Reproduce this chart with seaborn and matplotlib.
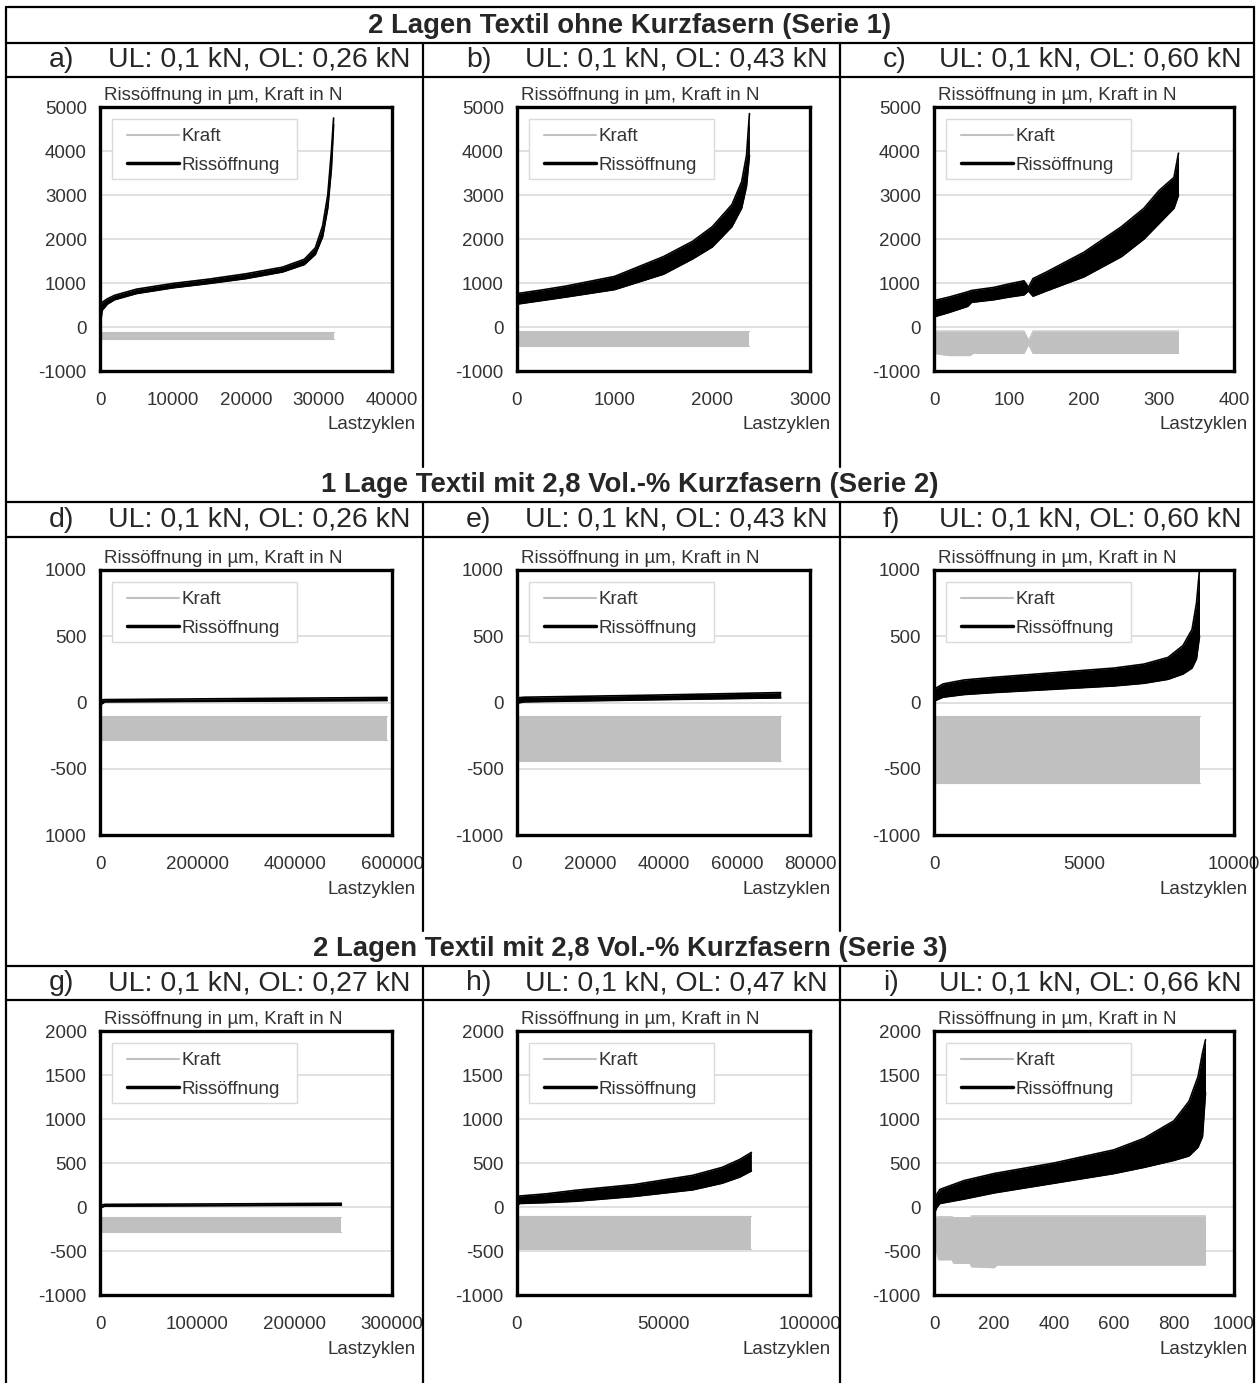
import numpy as np
import pandas as pd
import seaborn as sns
import matplotlib.pyplot as plt
from matplotlib.lines import Line2D
from matplotlib.patches import Rectangle

# Figure size in pixels (dpi 100)
W, H = 1259, 1383

# Section titles and panel subtitles
SECTION_TITLES = [
    "2 Lagen Textil ohne Kurzfasern (Serie 1)",
    "1 Lage Textil mit 2,8 Vol.-% Kurzfasern (Serie 2)",
    "2 Lagen Textil mit 2,8 Vol.-% Kurzfasern (Serie 3)",
]
PANEL_LETTERS = ["a)", "b)", "c)", "d)", "e)", "f)", "g)", "h)", "i)"]
PANEL_LOADS = [
    "UL: 0,1 kN, OL: 0,26 kN", "UL: 0,1 kN, OL: 0,43 kN", "UL: 0,1 kN, OL: 0,60 kN",
    "UL: 0,1 kN, OL: 0,26 kN", "UL: 0,1 kN, OL: 0,43 kN", "UL: 0,1 kN, OL: 0,60 kN",
    "UL: 0,1 kN, OL: 0,27 kN", "UL: 0,1 kN, OL: 0,47 kN", "UL: 0,1 kN, OL: 0,66 kN",
]
Y_TITLE = "Rissöffnung in µm, Kraft in N"
X_TITLE = "Lastzyklen"
LEGEND_LABELS = ["Kraft", "Rissöffnung"]

# Axis ticks per row / panel
Y_TICKS_ROW = [
    [-1000, 0, 1000, 2000, 3000, 4000, 5000],
    [-1000, -500, 0, 500, 1000],
    [-1000, -500, 0, 500, 1000, 1500, 2000],
]
Y_LABELS_ROW = [
    ["-1000", "0", "1000", "2000", "3000", "4000", "5000"],
    ["-1000", "-500", "0", "500", "1000"],
    ["-1000", "-500", "0", "500", "1000", "1500", "2000"],
]
Y_LABELS_D = ["1000", "-500", "0", "500", "1000"]
X_TICKS = [
    [0, 10000, 20000, 30000, 40000],
    [0, 1000, 2000, 3000],
    [0, 100, 200, 300, 400],
    [0, 200000, 400000, 600000],
    [0, 20000, 40000, 60000, 80000],
    [0, 5000, 10000],
    [0, 100000, 200000, 300000],
    [0, 50000, 100000],
    [0, 200, 400, 600, 800, 1000],
]

# ---- Rissöffnung bands (x, lower edge, upper edge) ----
A_X = [0, 300, 1000, 2000, 5000, 10000, 15000, 20000, 25000, 28000, 29500, 30500, 31200, 31700, 32000]
A_RIS_LO = [0, 380, 520, 620, 760, 890, 990, 1100, 1250, 1420, 1650, 2050, 2700, 3600, 4600]
A_RIS_HI = [450, 560, 640, 720, 860, 990, 1090, 1210, 1360, 1540, 1800, 2300, 3000, 4000, 4750]

B_X = [0, 250, 500, 1000, 1500, 1800, 2000, 2200, 2300, 2350, 2380]
B_RIS_LO = [520, 600, 680, 850, 1200, 1550, 1820, 2280, 2700, 3200, 3900]
B_RIS_HI = [760, 840, 930, 1150, 1600, 1950, 2280, 2780, 3300, 3900, 4850]

C_X = [0, 20, 45, 50, 80, 100, 120, 126, 132, 150, 200, 250, 280, 300, 320, 326]
C_RIS_LO = [230, 330, 470, 560, 620, 680, 730, 820, 700, 820, 1140, 1600, 2000, 2350, 2700, 3000]
C_RIS_HI = [600, 680, 800, 830, 900, 980, 1050, 900, 1100, 1250, 1700, 2280, 2700, 3100, 3400, 3950]

D_X = [0, 10000, 300000, 590000]
D_RIS_LO = [-20, 5, 10, 15]
D_RIS_HI = [20, 22, 30, 38]

E_X = [0, 2000, 36000, 72000]
E_RIS_LO = [-5, 5, 20, 35]
E_RIS_HI = [35, 40, 55, 75]

F_X = [0, 300, 1000, 2000, 4000, 6000, 7000, 7800, 8300, 8600, 8750, 8850]
F_RIS_LO = [10, 40, 60, 75, 100, 125, 145, 175, 215, 260, 330, 500]
F_RIS_HI = [100, 140, 170, 190, 225, 260, 290, 340, 430, 550, 750, 1000]

G_X = [0, 5000, 120000, 248000]
G_RIS_LO = [-10, 10, 15, 20]
G_RIS_HI = [20, 30, 35, 42]

H_X = [0, 1000, 10000, 20000, 40000, 60000, 70000, 76000, 80000]
H_RIS_LO = [20, 40, 50, 65, 120, 195, 270, 340, 410]
H_RIS_HI = [110, 125, 150, 190, 255, 360, 450, 540, 620]

I_X = [0, 10, 20, 100, 200, 400, 600, 700, 800, 850, 880, 895, 905]
I_RIS_LO = [-80, 0, 40, 90, 160, 270, 380, 450, 530, 580, 680, 800, 1300]
I_RIS_HI = [60, 150, 200, 300, 380, 500, 650, 780, 980, 1200, 1480, 1750, 1900]

# ---- Kraft bands (x, lower edge, upper edge) ----
A_KX, A_K_LO, A_K_HI = [0, 32000], [-275, -275], [-120, -120]
B_KX, B_K_LO, B_K_HI = [0, 2380], [-440, -440], [-90, -90]
C_KX = [0, 20, 48, 52, 120, 126, 132, 326]
C_K_LO = [-600, -650, -650, -600, -600, -400, -600, -600]
C_K_HI = [-90, -90, -90, -90, -90, -300, -90, -90]
D_KX, D_K_LO, D_K_HI = [0, 590000], [-280, -280], [-100, -100]
E_KX, E_K_LO, E_K_HI = [0, 72000], [-440, -440], [-100, -100]
F_KX, F_K_LO, F_K_HI = [0, 8850], [-610, -610], [-100, -100]
G_KX, G_K_LO, G_K_HI = [0, 248000], [-280, -280], [-110, -110]
H_KX, H_K_LO, H_K_HI = [0, 80000], [-480, -480], [-100, -100]
I_KX = [0, 15, 60, 65, 120, 125, 200, 210, 905]
I_K_LO = [-400, -600, -600, -640, -640, -680, -690, -660, -660]
I_K_HI = [-120, -110, -110, -120, -120, -100, -100, -100, -100]

PANELS = [
    (A_X, A_RIS_LO, A_RIS_HI, A_KX, A_K_LO, A_K_HI),
    (B_X, B_RIS_LO, B_RIS_HI, B_KX, B_K_LO, B_K_HI),
    (C_X, C_RIS_LO, C_RIS_HI, C_KX, C_K_LO, C_K_HI),
    (D_X, D_RIS_LO, D_RIS_HI, D_KX, D_K_LO, D_K_HI),
    (E_X, E_RIS_LO, E_RIS_HI, E_KX, E_K_LO, E_K_HI),
    (F_X, F_RIS_LO, F_RIS_HI, F_KX, F_K_LO, F_K_HI),
    (G_X, G_RIS_LO, G_RIS_HI, G_KX, G_K_LO, G_K_HI),
    (H_X, H_RIS_LO, H_RIS_HI, H_KX, H_K_LO, H_K_HI),
    (I_X, I_RIS_LO, I_RIS_HI, I_KX, I_K_LO, I_K_HI),
]

# Layout (pixels)
TABLE_L, TABLE_R, TABLE_T = 6, 1254, 7
COL_SEPS = [423, 840]
CELLS_X = [(6, 423), (423, 840), (840, 1254)]
TITLE_ROWS = [(7, 43), (467, 502), (931, 966)]
SUB_ROWS = [(43, 77), (502, 537), (966, 1000)]
PANEL_ROWS_END = [467, 931, 1383]
AX_COLS = [(100, 392), (517, 810), (934, 1234)]
AX_ROWS = [(107, 371), (570, 835), (1031, 1295)]
XTITLE_RIGHT = [416, 831, 1248]

KRAFT_COLOR = "#c0c0c0"
GRID_COLOR = "#dadada"
TEXT_GRAY = "#333333"
FS = 13.5

sns.set_theme(style="white")
plt.rcParams['font.family'] = ['Liberation Sans', 'DejaVu Sans']
plt.rcParams['axes.unicode_minus'] = False


def fx(px):
    return px / W


def fy(py):
    return 1 - py / H


fig = plt.figure(figsize=(W / 100, H / 100), dpi=100)

# table frame
hlines = [TABLE_T] + [r[1] for r in TITLE_ROWS] + [r[1] for r in SUB_ROWS]
for y in hlines:
    fig.add_artist(Line2D([fx(TABLE_L), fx(TABLE_R)], [fy(y), fy(y)], color="black", lw=1.6))
for x in (TABLE_L, TABLE_R):
    fig.add_artist(Line2D([fx(x), fx(x)], [fy(TABLE_T), fy(H)], color="black", lw=1.6))
for r in range(3):
    for x in COL_SEPS:
        fig.add_artist(Line2D([fx(x), fx(x)], [fy(SUB_ROWS[r][0]), fy(PANEL_ROWS_END[r])],
                              color="black", lw=1.6))

for r, title in enumerate(SECTION_TITLES):
    yc = sum(TITLE_ROWS[r]) / 2 + 1
    fig.text(fx(630), fy(yc), title, ha="center", va="center", fontsize=19.8, fontweight="bold")

for i, (letter, load) in enumerate(zip(PANEL_LETTERS, PANEL_LOADS)):
    r, c = divmod(i, 3)
    yc = sum(SUB_ROWS[r]) / 2
    cl, cr = CELLS_X[c]
    fig.text(fx(cl + 43), fy(yc), letter, ha="left", va="center", fontsize=20.5)
    fig.text(fx(cr - 12), fy(yc), load, ha="right", va="center", fontsize=20.5)

legend_handles = [Line2D([], [], color=KRAFT_COLOR, lw=1.5),
                  Line2D([], [], color="black", lw=2.5)]

for i, (xs, rlo, rhi, kx, klo, khi) in enumerate(PANELS):
    r, c = divmod(i, 3)
    l, rr = AX_COLS[c]
    t, b = AX_ROWS[r]
    aw, ah = rr - l, b - t
    ax = fig.add_axes([fx(l), fy(b), aw / W, ah / H])

    ris = pd.DataFrame({"x": xs, "lo": rlo, "hi": rhi})
    kraft = pd.DataFrame({"x": kx, "lo": klo, "hi": khi})

    ax.fill_between(kraft["x"], kraft["lo"], kraft["hi"], color=KRAFT_COLOR, lw=0, zorder=2)
    sns.lineplot(data=kraft, x="x", y="lo", ax=ax, color=KRAFT_COLOR, lw=0.8, zorder=2)
    sns.lineplot(data=kraft, x="x", y="hi", ax=ax, color=KRAFT_COLOR, lw=0.8, zorder=2)

    ax.fill_between(ris["x"], ris["lo"], ris["hi"], color="black", lw=0, zorder=3)
    sns.lineplot(data=ris, x="x", y="lo", ax=ax, color="black", lw=1.2, zorder=3)
    sns.lineplot(data=ris, x="x", y="hi", ax=ax, color="black", lw=1.2, zorder=3)

    yt = Y_TICKS_ROW[r]
    ylabels = Y_LABELS_D if i == 3 else Y_LABELS_ROW[r]
    ax.set_ylim(yt[0], yt[-1])
    ax.set_yticks(yt)
    ax.set_yticklabels(ylabels)
    xt = X_TICKS[i]
    ax.set_xlim(xt[0], xt[-1])
    ax.set_xticks(xt)
    ax.set_xticklabels([str(v) for v in xt])
    ax.set_xlabel("")
    ax.set_ylabel("")

    ax.grid(axis="y", color=GRID_COLOR, lw=1.2)
    ax.grid(axis="x", visible=False)
    ax.set_axisbelow(True)
    ax.tick_params(axis="both", which="major", length=3.5, width=1, color=GRID_COLOR,
                   labelsize=FS, labelcolor=TEXT_GRAY, direction="out")
    ax.tick_params(axis="x", pad=11.5)
    ax.tick_params(axis="y", pad=6)
    for sp in ax.spines.values():
        sp.set_visible(True)
        sp.set_color("black")
        sp.set_linewidth(2.4)
        sp.set_zorder(5)

    ax.annotate(Y_TITLE, xy=(0, 1), xycoords="axes fraction", xytext=(3, 8),
                textcoords="offset points", ha="left", va="center", fontsize=FS, color=TEXT_GRAY)
    fig.text(fx(XTITLE_RIGHT[c]), fy(b + 54), X_TITLE, ha="right", va="center",
             fontsize=FS, color=TEXT_GRAY)

    # legend frame: 185 x 60 px box, 12 px from the top-left corner of the plot area
    ax.add_patch(Rectangle((12 / aw, 1 - 72 / ah), 185 / aw, 60 / ah, transform=ax.transAxes,
                           facecolor="white", edgecolor=GRID_COLOR, lw=1.0, zorder=6))
    leg = ax.legend(legend_handles, LEGEND_LABELS, loc="upper left",
                    bbox_to_anchor=(27 / aw, 1 - 21 / ah),
                    borderaxespad=0, fontsize=FS, frameon=False,
                    handlelength=2.75, handletextpad=0.15, labelspacing=0.62, borderpad=0)
    for txt in leg.get_texts():
        txt.set_color(TEXT_GRAY)
    leg.set_zorder(7)

fig.savefig("out.png", dpi=100)
